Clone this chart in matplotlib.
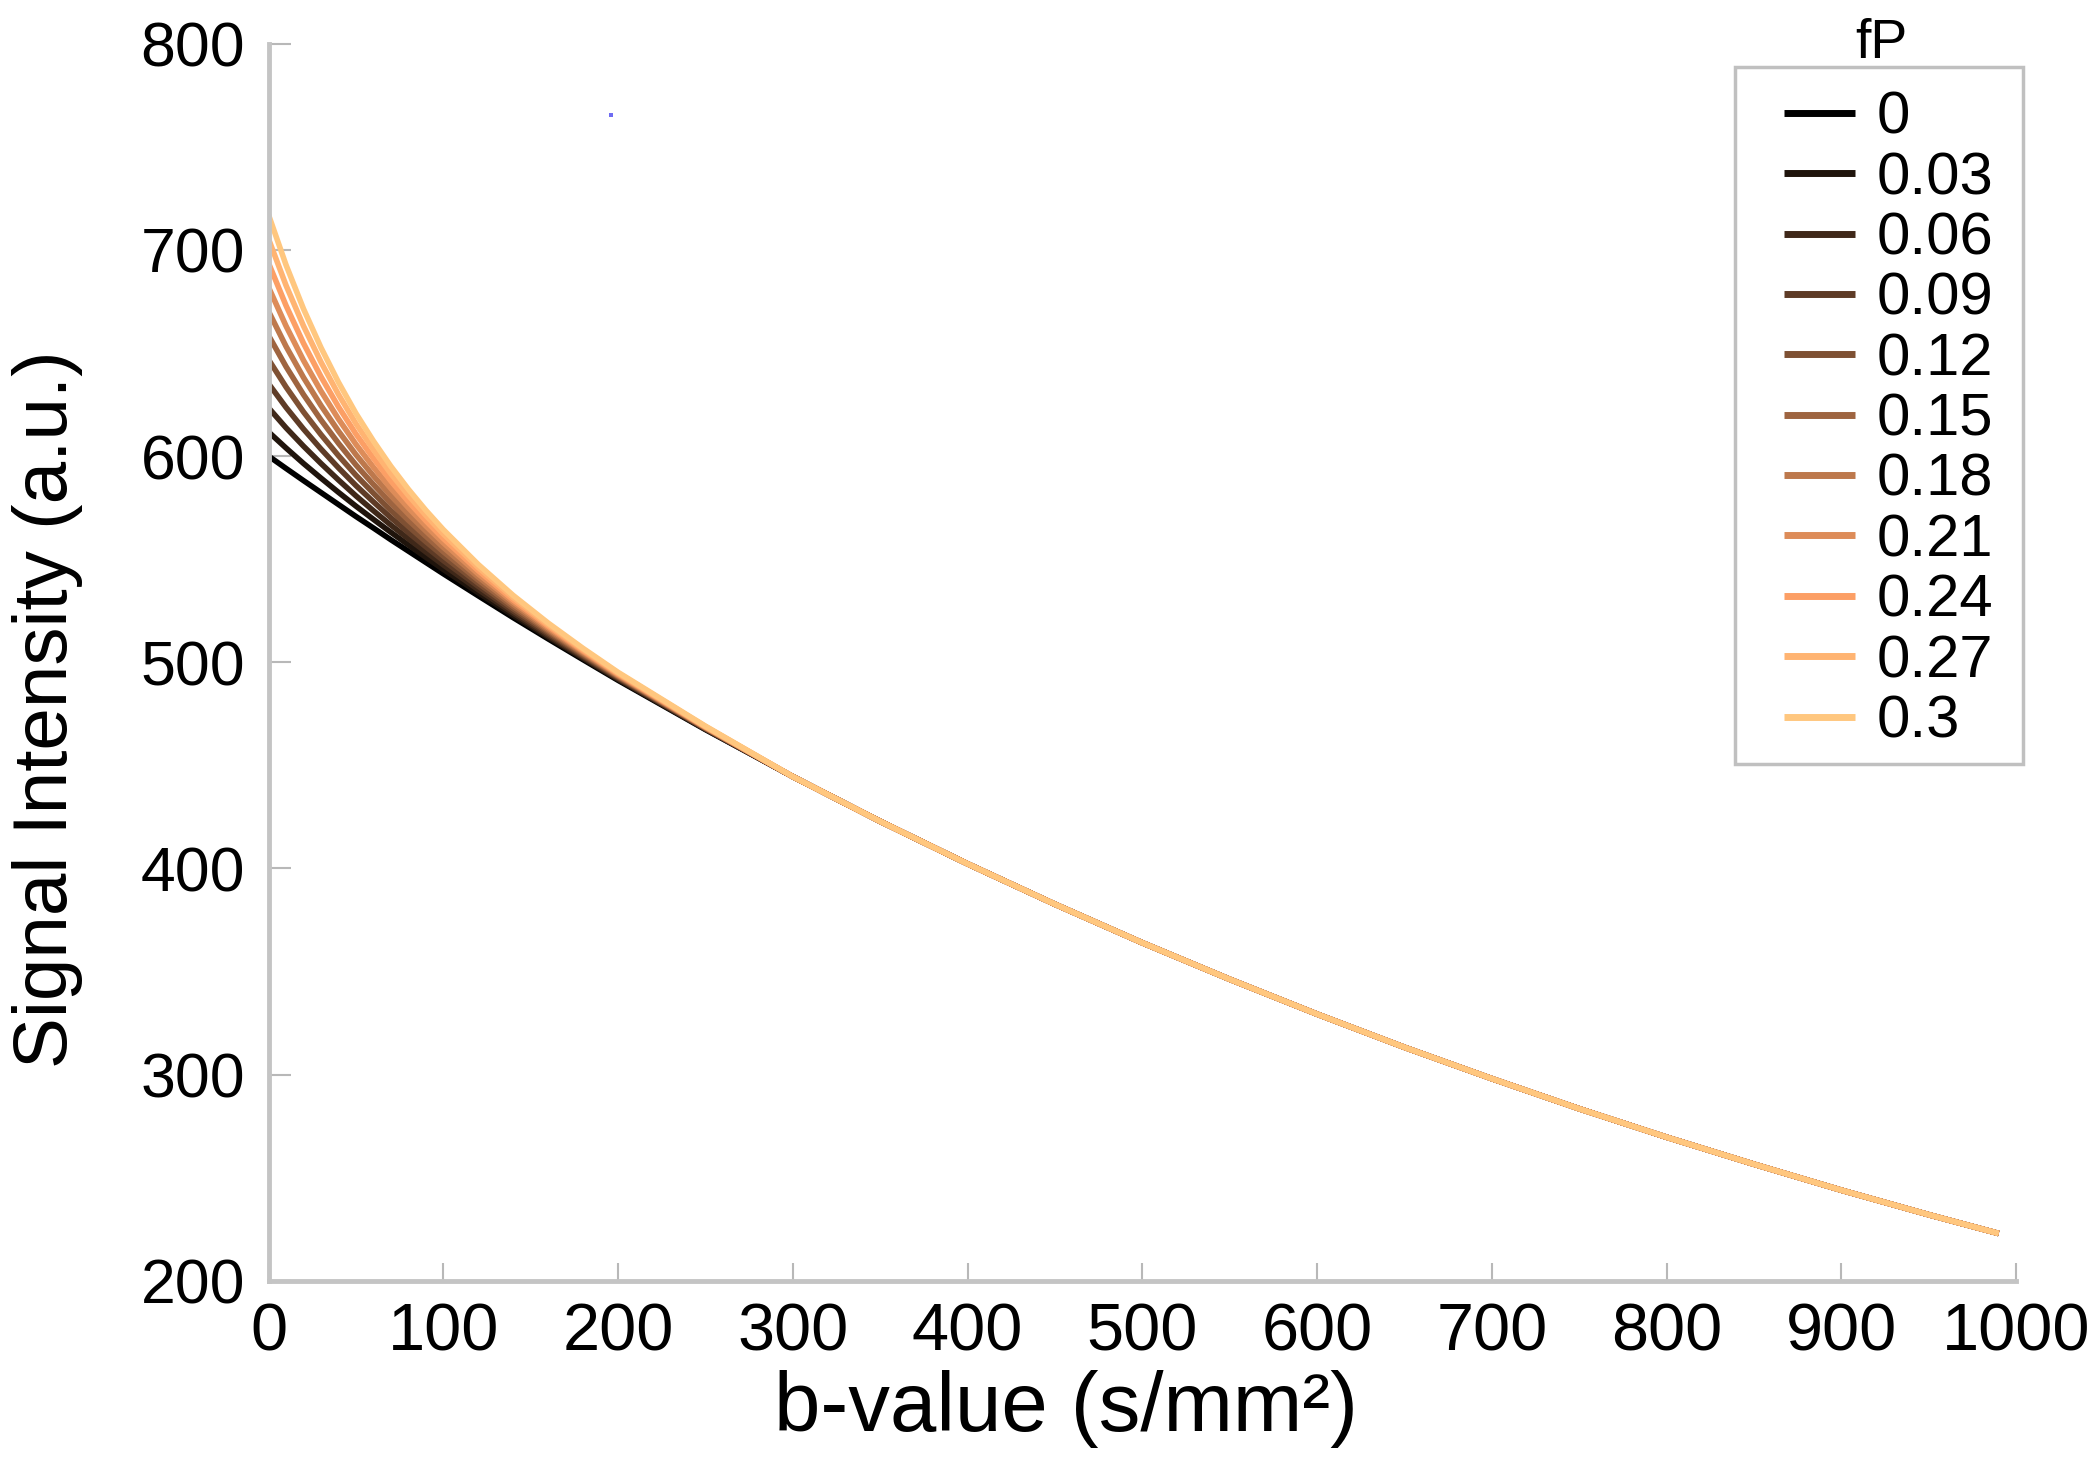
"""
IVIM-style signal decay curves for increasing perfusion fraction fP.
"""

import matplotlib
matplotlib.use("Agg")
import matplotlib.pyplot as plt
from matplotlib.patches import Rectangle

plt.rcParams["font.family"] = ["Liberation Sans", "DejaVu Sans"]

# ---------------------------------------------------------------------------
#  data
# ---------------------------------------------------------------------------
fp_labels = ["0", "0.03", "0.06", "0.09", "0.12", "0.15", "0.18", "0.21",
             "0.24", "0.27", "0.3"]

# early part (curves still separate)
b_early = [0, 10, 20, 30, 40, 50, 60, 70, 80, 90, 100, 120, 140, 160, 180,
           200, 250]
sig_fp000 = [600.0, 594.0, 588.1, 582.3, 576.5, 570.7, 565.1, 559.4, 553.9,
             548.4, 542.9, 532.2, 521.6, 511.3, 501.2, 491.2, 467.3]
sig_fp003 = [611.7, 603.9, 596.4, 589.3, 582.4, 575.7, 569.3, 563.0, 556.9,
             550.9, 545.0, 533.7, 522.7, 512.1, 501.8, 491.6, 467.5]
sig_fp006 = [623.4, 613.7, 604.8, 596.4, 588.4, 580.7, 573.5, 566.5, 559.9,
             553.5, 547.2, 535.2, 523.8, 512.8, 502.3, 492.0, 467.6]
sig_fp009 = [635.1, 623.6, 613.1, 603.4, 594.3, 585.7, 577.8, 570.1, 562.9,
             556.0, 549.3, 536.8, 524.8, 513.6, 502.9, 492.4, 467.8]
sig_fp012 = [646.8, 633.5, 621.4, 610.4, 600.2, 590.7, 582.0, 573.6, 565.9,
             558.5, 551.5, 538.3, 525.9, 514.4, 503.4, 492.8, 468.0]
sig_fp015 = [658.5, 643.4, 629.8, 617.5, 606.2, 595.7, 586.2, 577.2, 568.9,
             561.1, 553.6, 539.8, 527.0, 515.2, 504.0, 493.2, 468.1]
sig_fp018 = [670.2, 653.2, 638.1, 624.5, 612.1, 600.7, 590.4, 580.8, 571.9,
             563.6, 555.7, 541.3, 528.1, 515.9, 504.5, 493.5, 468.3]
sig_fp021 = [681.9, 663.1, 646.4, 631.5, 618.0, 605.7, 594.6, 584.3, 574.9,
             566.1, 557.9, 542.8, 529.2, 516.7, 505.1, 493.9, 468.5]
sig_fp024 = [693.6, 673.0, 654.7, 638.5, 623.9, 610.7, 598.9, 587.9, 577.9,
             568.6, 560.0, 544.4, 530.2, 517.5, 505.6, 494.3, 468.6]
sig_fp027 = [705.3, 682.8, 663.1, 645.6, 629.9, 615.7, 603.1, 591.4, 580.9,
             571.2, 562.2, 545.9, 531.3, 518.2, 506.2, 494.7, 468.8]
sig_fp030 = [717.0, 692.7, 671.4, 652.6, 635.8, 620.7, 607.3, 595.0, 583.9,
             573.7, 564.3, 547.4, 532.4, 519.0, 506.7, 495.1, 469.0]

# late part (all curves overlap)
b_tail = [300, 350, 400, 450, 500, 550, 600, 650, 700, 750, 800, 850, 900,
          950, 990]
sig_tail = [444.5, 422.8, 402.2, 382.6, 363.9, 346.2, 329.3, 313.2, 298.0,
            283.4, 269.6, 256.5, 243.9, 232.0, 222.9]

early_series = [sig_fp000, sig_fp003, sig_fp006, sig_fp009, sig_fp012,
                sig_fp015, sig_fp018, sig_fp021, sig_fp024, sig_fp027,
                sig_fp030]

# stray blue speck visible in the original figure
speck_b = [196]
speck_sig = [765.5]

x_ticks = list(range(0, 1001, 100))
y_ticks = list(range(200, 801, 100))

# ---------------------------------------------------------------------------
#  plotting
# ---------------------------------------------------------------------------
fig = plt.figure(figsize=(20.98, 14.57), dpi=100)
ax = fig.add_axes([0.128, 0.121, 0.833, 0.849])

cmap = plt.get_cmap("copper")
n = len(early_series)
handles = []
for k, (sig, lab) in enumerate(zip(early_series, fp_labels)):
    col = cmap(k / (n - 1))
    h, = ax.plot(b_early + b_tail, sig + sig_tail, color=col, lw=4.0,
                 solid_capstyle="butt", label=lab)
    handles.append(h)

ax.plot(speck_b, speck_sig, ls="none", marker="s", ms=2.5, mew=0,
        color="#6f6cf2")

ax.set_xlim(0, 1000)
ax.set_ylim(200, 800)
ax.set_xticks(x_ticks)
ax.set_yticks(y_ticks)

for side in ("top", "right"):
    ax.spines[side].set_visible(False)
for side in ("left", "bottom"):
    ax.spines[side].set_color("#c4c4c4")
    ax.spines[side].set_linewidth(3.5)

ax.tick_params(axis="x", direction="in", length=13, width=1.5,
               color="#b8b8b8", labelsize=48, pad=16)
ax.tick_params(axis="y", direction="in", length=16, width=1.5,
               color="#b8b8b8", labelsize=45, pad=17)

ax.set_xlabel("b-value (s/mm²)", fontsize=60)
ax.set_ylabel("Signal Intensity (a.u.)", fontsize=55)
ax.xaxis.set_label_coords(0.456, -0.072)
ax.yaxis.set_label_coords(-0.106, 0.462)

# legend entries without frame, frame drawn separately
leg = ax.legend(handles=handles, loc="upper left",
                bbox_to_anchor=(0.867, 0.962), fontsize=43,
                handlelength=1.2, handletextpad=0.35, labelspacing=0.09,
                borderpad=0.0, borderaxespad=0.0, frameon=False)
for line in leg.get_lines():
    line.set_linewidth(5)

ax.add_patch(Rectangle((0.839, 0.418), 0.165, 0.563,
                       transform=ax.transAxes, fill=False,
                       edgecolor="#c0c0c0", linewidth=2.5, clip_on=False,
                       zorder=5))

ax.text(0.923, 0.9887, "fP", transform=ax.transAxes, ha="center",
        va="baseline", fontsize=40)

fig.savefig("out.png", dpi=100)
plt.close(fig)
